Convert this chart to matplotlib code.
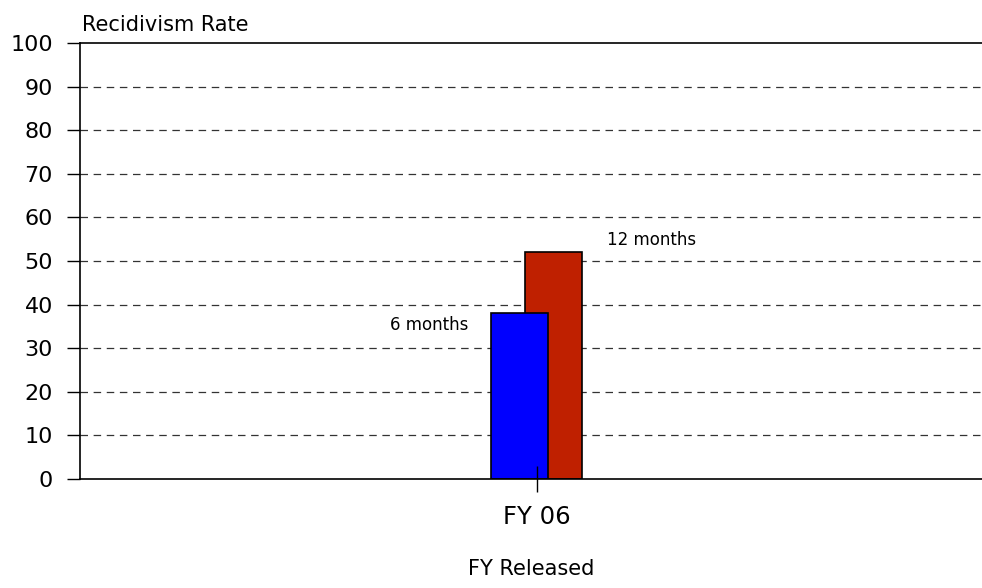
import matplotlib.pyplot as plt

categories = ['FY 06']
six_months = [38]
twelve_months = [52]
y_ticks = [0, 10, 20, 30, 40, 50, 60, 70, 80, 90, 100]

plt.rcParams['font.family'] = ['DejaVu Sans']

fig = plt.figure(figsize=(9.82, 5.88), dpi=100)
ax = fig.add_axes([80/982, 1 - 479/588, 1 - 80/982, 436/588])
ax.set_axisbelow(False)

w = 0.35
off = 0.104
x = list(range(len(categories)))
ax.bar([i + off for i in x], twelve_months, width=w, color='#BF2000',
       edgecolor='black', linewidth=1.2, zorder=2)
ax.bar([i - off for i in x], six_months, width=w, color='#0000FF',
       edgecolor='black', linewidth=1.2, zorder=2.1)

ax.text(-0.415, 35.3, '6 months', ha='right', va='center', fontsize=12)
ax.text(0.428, 54.8, '12 months', ha='left', va='center', fontsize=12)

ax.set_xlim(-2.79, 2.72)
ax.set_ylim(0, 100)
ax.set_yticks(y_ticks)
ax.set_yticklabels([str(v) for v in y_ticks], fontsize=16)
ax.set_xticks(x)
ax.set_xticklabels(categories, fontsize=17.5)
ax.tick_params(axis='y', direction='out', length=9.5, width=1, pad=10)
ax.tick_params(axis='x', direction='inout', length=19, width=1, pad=9)

for v in y_ticks[1:-1]:
    ax.axhline(v, color='#333333', linestyle=(0, (6, 4.5)), linewidth=0.9, zorder=1)

ax.spines['right'].set_visible(False)
ax.spines['top'].set_linewidth(1.2)
ax.spines['bottom'].set_linewidth(1.2)
ax.spines['left'].set_linewidth(1.2)

ax.set_xlabel('FY Released', fontsize=15, labelpad=22)
fig.text(82/982, 1 - 25/588, 'Recidivism Rate', fontsize=15, ha='left', va='center')

fig.savefig('out.png', dpi=100)
